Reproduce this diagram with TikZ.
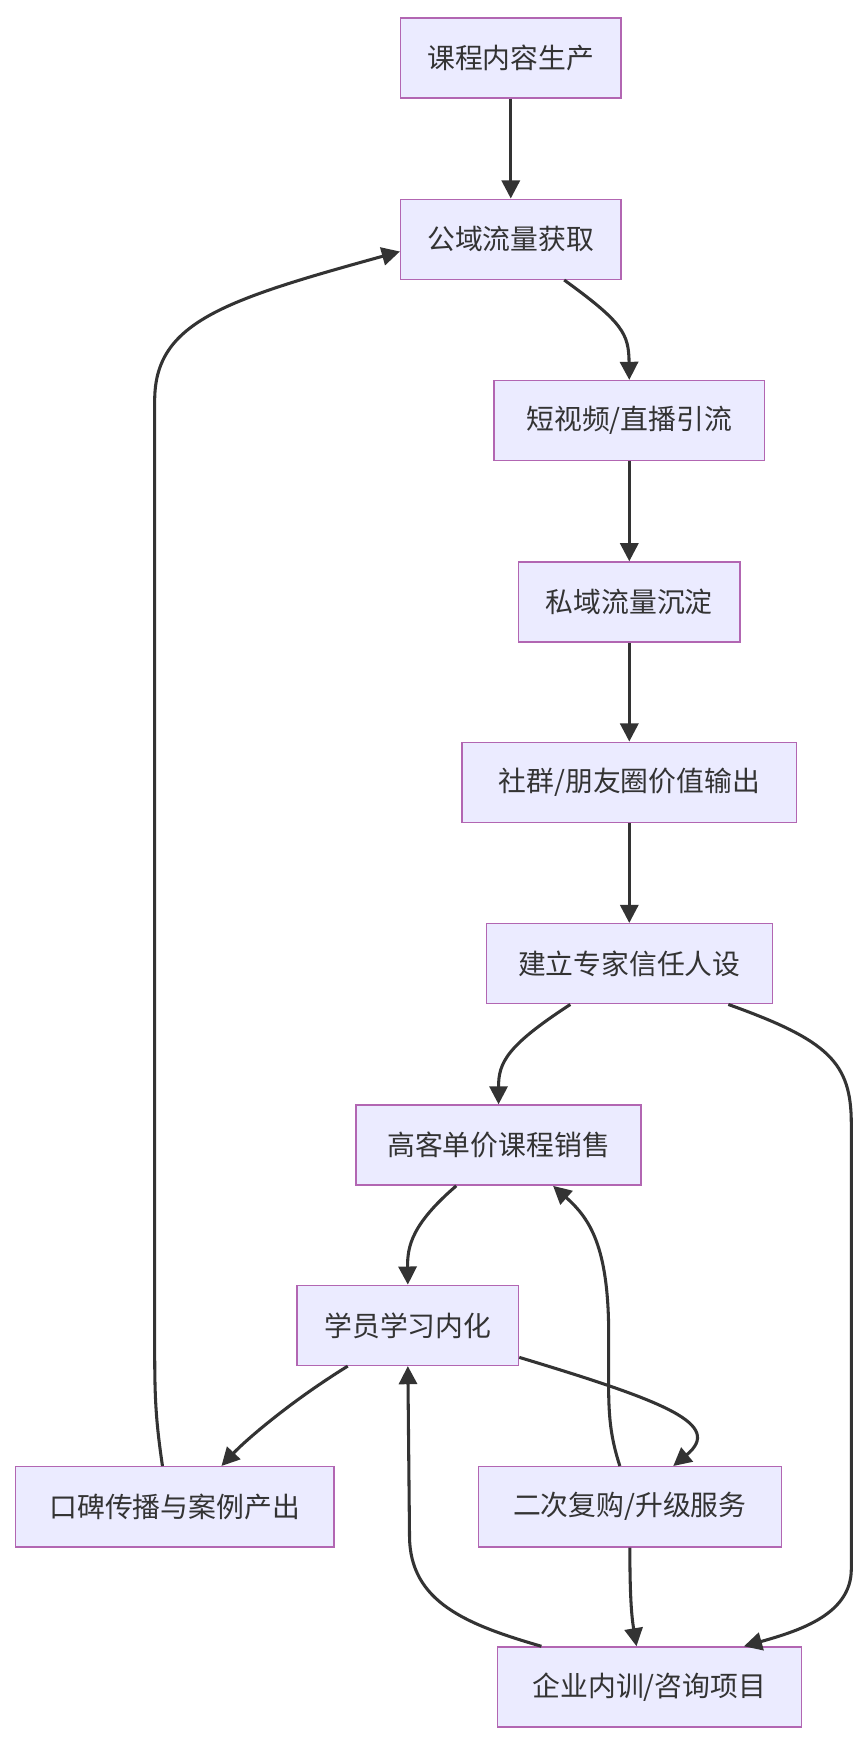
\documentclass[tikz,border=0pt]{standalone}
\usepackage{fontspec}
\setmainfont{Noto Sans CJK SC}
\usetikzlibrary{arrows.meta}
\begin{document}
\begin{tikzpicture}[x=0.8pt,y=-0.8pt,
 box/.style={draw=violet!60!white,line width=1pt,fill=blue!8,minimum height=57.6pt,inner sep=0pt,font=\fontsize{20}{24}\selectfont,text=black!80},
 ar/.style={draw=black!80,line width=2.2pt,-{Triangle[length=13pt,width=13pt]}}]
\useasboundingbox (0,0) rectangle (780,1569);
\node[box,minimum width=158.4pt] (a) at (459,52) {课程内容生产};
\node[box,minimum width=158.4pt] (b) at (459,215) {公域流量获取};
\node[box,minimum width=194.4pt] (c) at (565.5,378) {短视频/直播引流};
\node[box,minimum width=159.2pt] (d) at (565.5,541) {私域流量沉淀};
\node[box,minimum width=240.8pt] (e) at (565.5,703) {社群/朋友圈价值输出};
\node[box,minimum width=205.6pt] (f) at (565.5,866) {建立专家信任人设};
\node[box,minimum width=204.8pt] (g) at (448,1029) {高客单价课程销售};
\node[box,minimum width=159.2pt] (h) at (366.5,1191) {学员学习内化};
\node[box,minimum width=228.8pt] (i) at (157,1354) {口碑传播与案例产出};
\node[box,minimum width=217.6pt] (j) at (566,1354) {二次复购/升级服务};
\node[box,minimum width=218.4pt] (k) at (583.5,1516) {企业内训/咨询项目};
\draw[ar] (a) -- (b);
\draw[ar] ([xshift=38.4pt]b.south) .. controls (560,290) and (565,300) .. (c.north);
\draw[ar] ([xshift=-8.8pt]i.north) .. controls (139,1270) and (139,1250) .. (139,1200) -- (139,360) .. controls (139,290) and (200,270) .. ([yshift=-8.8pt]b.west);
\draw[ar] (c) -- (d);
\draw[ar] (d) -- (e);
\draw[ar] (e) -- (f);
\draw[ar] ([xshift=-42.4pt]f.south) .. controls (455,940) and (448,955) .. (g.north);
\draw[ar] ([xshift=71.2pt]f.south) .. controls (745,935) and (765,955) .. (765,1010) -- (765,1410) .. controls (765,1450) and (720,1465) .. ([xshift=68pt]k.north);
\draw[ar] ([xshift=-30.4pt]g.south) .. controls (370,1100) and (366,1120) .. (h.north);
\draw[ar] ([xshift=-43.2pt]h.south) .. controls (260,1260) and (220,1295) .. ([xshift=33.6pt]i.north);
\draw[ar] ([yshift=-23pt]h.east) .. controls (600,1260) and (650,1280) .. ([xshift=31.2pt]j.north);
\draw[ar] ([xshift=-7.2pt]j.north) .. controls (545,1280) and (547,1260) .. (547,1200) .. controls (547,1120) and (530,1095) .. ([xshift=39.2pt]g.south);
\draw[ar] (j.south) .. controls (566,1440) and (568,1455) .. ([xshift=-9.2pt]k.north);
\draw[ar] ([xshift=-77.6pt]k.north) .. controls (420,1460) and (368,1440) .. (368,1380) -- (h.south);
\end{tikzpicture}
\end{document}
